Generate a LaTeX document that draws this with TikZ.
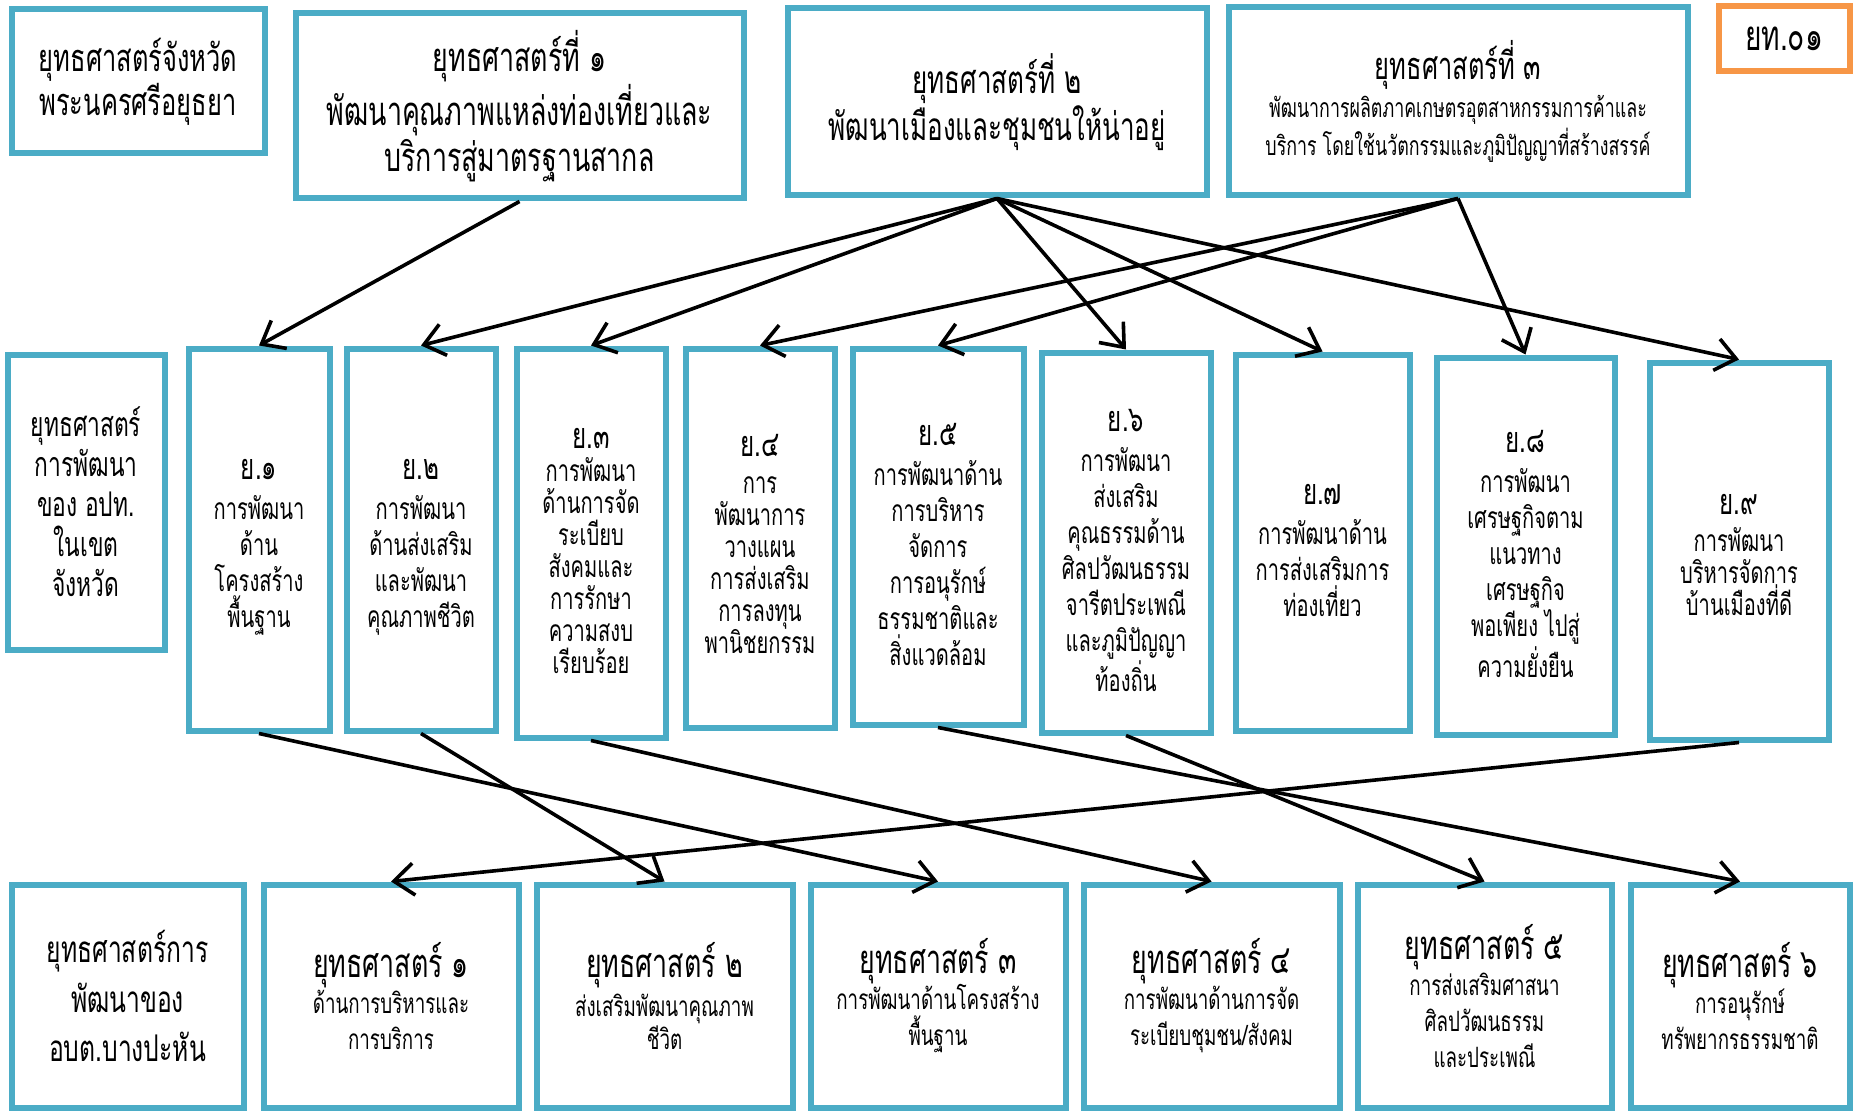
\documentclass[tikz,border=0pt]{standalone}
\usepackage{fontspec}
\setmainfont[Script=Thai,FakeStretch=0.67]{Loma}
\usepackage{tikz}
\usetikzlibrary{arrows.meta}
\definecolor{boxaqua}{HTML}{4BACC6}
\definecolor{tagorange}{HTML}{F79646}
\tikzstyle{frame}=[draw=boxaqua, line width=3pt, align=center, inner sep=0pt]
\tikzstyle{topbox}=[frame, font={\fontsize{19}{22}\selectfont}]
\tikzstyle{midbox}=[frame]
\tikzstyle{midtext}=[align=center, inner sep=0pt, font={\fontsize{15}{18}\selectfont}]
\tikzstyle{lowbox}=[frame, minimum height=111.5pt, font={\fontsize{14}{18}\selectfont}]
\tikzstyle{link}=[-{Straight Barb[length=10pt,width=16pt]}, line width=1.8pt]
\newcommand{\yno}{\fontsize{18}{20}\selectfont}
\newcommand{\ltitle}{\fontsize{20}{22}\selectfont}

\begin{document}
\begin{tikzpicture}[x=0.5pt, y=-0.5pt]
  \useasboundingbox (0,0) rectangle (1854,1113);
  % top row
  \node[topbox, minimum width=126.5pt, minimum height=72pt] (prov) at (138,81.5) {ยุทธศาสตร์จังหวัด\\พระนครศรีอยุธยา};
  \node[topbox, font={\fontsize{20}{23}\selectfont}, minimum width=224pt, minimum height=92.5pt] (s1) at (519.5,106) {ยุทธศาสตร์ที่ ๑\\พัฒนาคุณภาพแหล่งท่องเที่ยวและ\\บริการสู่มาตรฐานสากล};
  \node[topbox, font={\fontsize{19.4}{21}\selectfont}, minimum width=209.5pt, minimum height=93.5pt] (s2) at (997,102) {ยุทธศาสตร์ที่ ๒\\พัฒนาเมืองและชุมชนให้น่าอยู่};
  \node[topbox, font={\fontsize{13.3}{19}\selectfont}, minimum width=229.5pt, minimum height=94pt] (s3) at (1458,101.5) {{\fontsize{19}{21}\selectfont ยุทธศาสตร์ที่ ๓}\\พัฒนาการผลิตภาคเกษตรอุตสาหกรรมการค้าและ\\บริการ โดยใช้นวัตกรรมและภูมิปัญญาที่สร้างสรรค์};
  \node[topbox, draw=tagorange, font={\fontsize{21}{23}\selectfont}, minimum width=65.5pt, minimum height=32.5pt] (tag) at (1784,39) {ยท.๐๑};
  % middle row
  \node[midbox, font={\fontsize{17}{20}\selectfont}, minimum width=78.5pt, minimum height=147.5pt] (m0) at (86,502) {ยุทธศาสตร์\\การพัฒนา\\ของ อปท.\\ในเขต\\จังหวัด};
  \node[midbox, minimum width=70.5pt, minimum height=191pt] (y1) at (259,539.5) {};
  \node[midtext] (y1t) at ([yshift=-4pt]y1.center) {{\yno ย.๑}\\[2pt]การพัฒนา\\ด้าน\\โครงสร้าง\\พื้นฐาน};
  \node[midbox, minimum width=74.5pt, minimum height=191pt] (y2) at (421,539.5) {};
  \node[midtext] (y2t) at ([yshift=-4pt]y2.center) {{\yno ย.๒}\\[2pt]การพัฒนา\\ด้านส่งเสริม\\และพัฒนา\\คุณภาพชีวิต};
  \node[midbox, minimum width=74.5pt, minimum height=194.5pt] (y3) at (591,543) {};
  \node[midtext, font={\fontsize{15}{16}\selectfont}] (y3t) at ([yshift=-4pt]y3.center) {{\yno ย.๓}\\[0.5pt]การพัฒนา\\ด้านการจัด\\ระเบียบ\\สังคมและ\\การรักษา\\ความสงบ\\เรียบร้อย};
  \node[midbox, minimum width=74.5pt, minimum height=189.5pt] (y4) at (760,538) {};
  \node[midtext, font={\fontsize{15}{16}\selectfont}] (y4t) at ([yshift=-3pt]y4.center) {{\yno ย.๔}\\[2.5pt]การ\\พัฒนาการ\\วางแผน\\การส่งเสริม\\การลงทุน\\พานิชยกรรม};
  \node[midbox, minimum width=85.5pt, minimum height=188pt] (y5) at (938,536.5) {};
  \node[midtext] (y5t) at ([yshift=-4pt]y5.center) {{\yno ย.๕}\\[2pt]การพัฒนาด้าน\\การบริหาร\\จัดการ\\การอนุรักษ์\\ธรรมชาติและ\\สิ่งแวดล้อม};
  \node[midbox, minimum width=84.5pt, minimum height=190pt] (y6) at (1126,542.5) {};
  \node[midtext] (y6t) at ([yshift=-4pt]y6.center) {{\yno ย.๖}\\[2pt]การพัฒนา\\ส่งเสริม\\คุณธรรมด้าน\\ศิลปวัฒนธรรม\\จารีตประเพณี\\และภูมิปัญญา\\ท้องถิ่น};
  \node[midbox, minimum width=87pt, minimum height=188pt] (y7) at (1322.5,542.5) {};
  \node[midtext] (y7t) at ([yshift=-4pt]y7.center) {{\yno ย.๗}\\[2pt]การพัฒนาด้าน\\การส่งเสริมการ\\ท่องเที่ยว};
  \node[midbox, minimum width=89pt, minimum height=188.5pt] (y8) at (1525.5,546) {};
  \node[midtext] (y8t) at ([yshift=-4pt]y8.center) {{\yno ย.๘}\\[2pt]การพัฒนา\\เศรษฐกิจตาม\\แนวทาง\\เศรษฐกิจ\\พอเพียง ไปสู่\\ความยั่งยืน};
  \node[midbox, minimum width=89.5pt, minimum height=188.5pt] (y9) at (1739,551) {};
  \node[midtext, font={\fontsize{15}{16}\selectfont}] (y9t) at ([yshift=-2pt]y9.center) {{\yno ย.๙}\\[2.5pt]การพัฒนา\\บริหารจัดการ\\บ้านเมืองที่ดี};
  % bottom row
  \node[lowbox, font={\fontsize{18.4}{24.6}\selectfont}, minimum width=116pt] (l0) at (127.5,996) {ยุทธศาสตร์การ\\พัฒนาของ\\อบต.บางปะหัน};
  \node[lowbox, minimum width=127.5pt] (l1) at (391,996) {{\ltitle ยุทธศาสตร์ ๑}\\ด้านการบริหารและ\\การบริการ};
  \node[lowbox, font={\fontsize{14}{14}\selectfont}, minimum width=128pt] (l2) at (664.5,996) {{\ltitle ยุทธศาสตร์ ๒}\\[2pt]ส่งเสริมพัฒนาคุณภาพ\\ชีวิต};
  \node[lowbox, minimum width=127.5pt] (l3) at (938,996) {{\ltitle ยุทธศาสตร์ ๓}\\การพัฒนาด้านโครงสร้าง\\พื้นฐาน};
  \node[lowbox, minimum width=128pt] (l4) at (1211.5,996) {{\ltitle ยุทธศาสตร์ ๔}\\การพัฒนาด้านการจัด\\ระเบียบชุมชน/สังคม};
  \node[lowbox, minimum width=127pt] (l5) at (1484.5,996) {{\ltitle ยุทธศาสตร์ ๕}\\การส่งเสริมศาสนา\\ศิลปวัฒนธรรม\\และประเพณี};
  \node[lowbox, minimum width=109.5pt] (l6) at (1740,996) {{\ltitle ยุทธศาสตร์ ๖}\\การอนุรักษ์\\ทรัพยากรธรรมชาติ};
  % links
  \draw[link] (s1.south) -- (y1.north);
  \foreach \t in {y2,y3,y6,y7,y9}
    \draw[link] (s2.south) -- (\t.north);
  \foreach \t in {y4,y5,y8}
    \draw[link] (s3.south) -- (\t.north);
  \draw[link] (y1.south) -- (l3.north);
  \draw[link] (y2.south) -- (l2.north);
  \draw[link] (y3.south) -- (l4.north);
  \draw[link] (y5.south) -- (l6.north);
  \draw[link] (y6.south) -- (l5.north);
  \draw[link] (y9.south) -- (l1.north);
\end{tikzpicture}
\end{document}
